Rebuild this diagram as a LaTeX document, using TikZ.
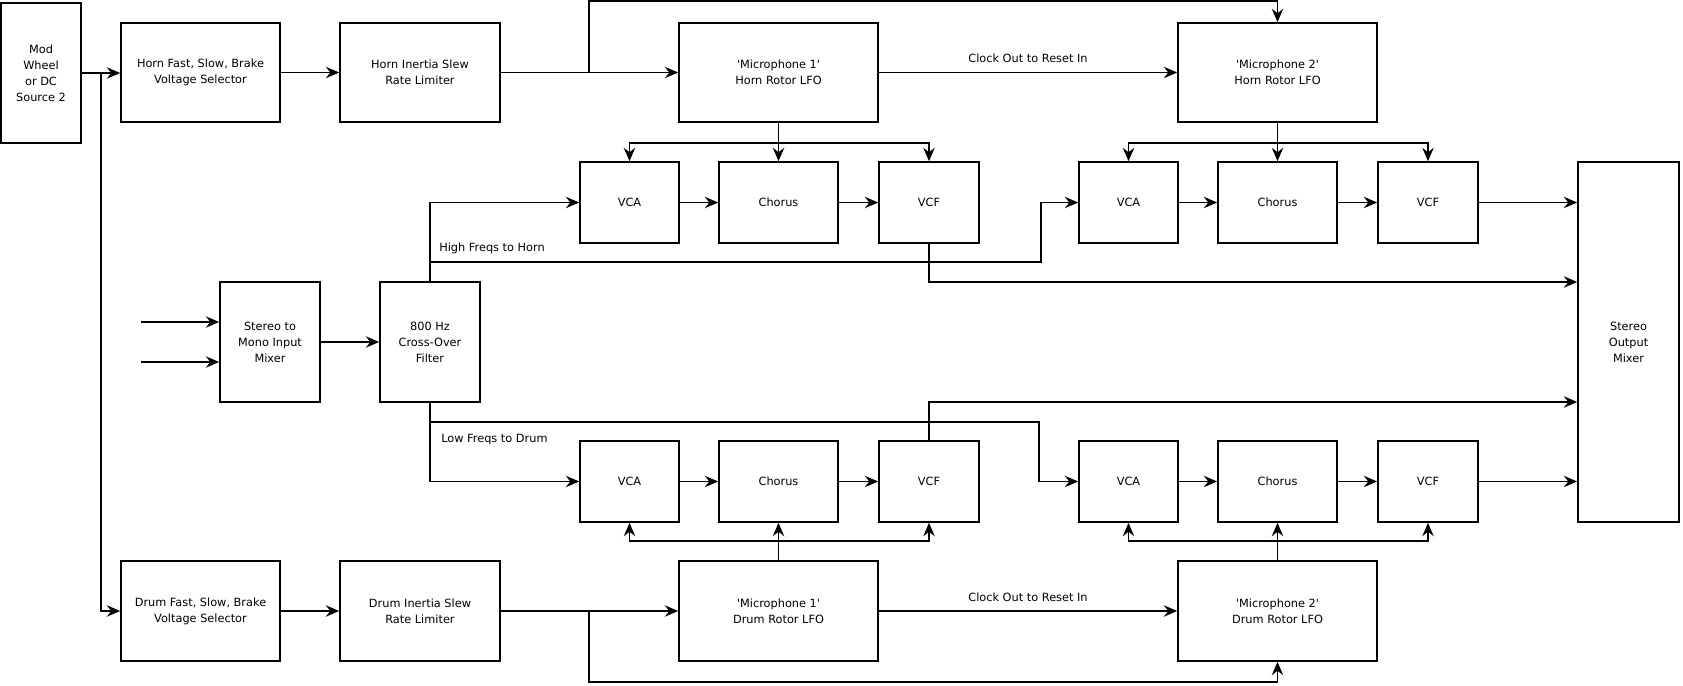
\documentclass[tikz,border=0pt]{standalone}
\usepackage{fontspec}
\setmainfont{DejaVu Sans}
\usetikzlibrary{arrows.meta,calc}
\newcommand\fs{\fontsize{8.5pt}{12pt}\selectfont}
\newcommand\mybox[6]{%
  \pgfmathsetmacro\bcx{(#2+#4)/2}%
  \pgfmathsetmacro\bcy{(#3+#5)/2}%
  \pgfmathsetmacro\bw{(#4-#2)*0.75}%
  \pgfmathsetmacro\bh{(#5-#3)*0.75}%
  \node[blk, minimum width=\bw pt, minimum height=\bh pt] (#1) at (\bcx,\bcy) {#6};}
\newcommand\sq{\textquotesingle}
\begin{document}
\begin{tikzpicture}[x=0.75pt,y=-0.75pt,
  blk/.style={draw, line width=1.2pt, align=center, inner sep=2pt, font=\fs},
  arr/.style={line width=1.4pt, -{Stealth[length=10pt,width=8.5pt,inset=3.3pt]}},
  lbl/.style={font=\fs, inner sep=0pt}]
\useasboundingbox (0,0) rectangle (1683,685);
% boxes
\mybox{mod}{1}{3}{81}{143}{Mod\\Wheel\\or DC\\Source 2}
\mybox{hf}{121}{23}{280}{122}{Horn Fast, Slow, Brake\\Voltage Selector}
\mybox{hi}{340}{23}{500}{122}{Horn Inertia Slew\\Rate Limiter}
\mybox{m1h}{679}{23}{878}{122}{\sq Microphone 1\sq\\Horn Rotor LFO}
\mybox{m2h}{1178}{23}{1377}{122}{\sq Microphone 2\sq\\Horn Rotor LFO}
\mybox{va1}{580}{162}{679}{243}{VCA}
\mybox{ch1}{719}{162}{838}{243}{Chorus}
\mybox{vf1}{879}{162}{979}{243}{VCF}
\mybox{va2}{1079}{162}{1178}{243}{VCA}
\mybox{ch2}{1218}{162}{1337}{243}{Chorus}
\mybox{vf2}{1378}{162}{1478}{243}{VCF}
\mybox{om}{1578}{162}{1679}{522}{Stereo\\Output\\Mixer}
\mybox{sm}{220}{282}{320}{402}{Stereo to\\Mono Input\\Mixer}
\mybox{xo}{380}{282}{480}{402}{800 Hz\\Cross-Over\\Filter}
\mybox{vb1}{580}{441}{679}{522}{VCA}
\mybox{chb1}{719}{441}{838}{522}{Chorus}
\mybox{vfb1}{879}{441}{979}{522}{VCF}
\mybox{vb2}{1079}{441}{1178}{522}{VCA}
\mybox{chb2}{1218}{441}{1337}{522}{Chorus}
\mybox{vfb2}{1378}{441}{1478}{522}{VCF}
\mybox{df}{121}{561}{280}{661}{Drum Fast, Slow, Brake\\Voltage Selector}
\mybox{di}{340}{561}{500}{661}{Drum Inertia Slew\\Rate Limiter}
\mybox{m1d}{679}{561}{878}{661}{\sq Microphone 1\sq\\Drum Rotor LFO}
\mybox{m2d}{1178}{561}{1377}{661}{\sq Microphone 2\sq\\Drum Rotor LFO}
% helper coordinates
\coordinate (j1) at (101,73);
\coordinate (j2) at (589,72.5);
\coordinate (ytop) at (0,1);
\coordinate (yhb) at (0,143);
\coordinate (in1) at (141,322);
\coordinate (in2) at (141,362);
\coordinate (hl) at (430,262);
\coordinate (hk) at (1041,262);
\coordinate (y282) at (0,282);
\coordinate (ll) at (430,422);
\coordinate (lk) at (1039,422);
\coordinate (y402) at (0,402);
\coordinate (ydb) at (0,541);
\coordinate (j3) at (589,611);
\coordinate (ybot) at (0,682);
% control chain (horn)
\draw[arr] (mod.east) -- (mod.east -| hf.west);
\draw[arr] (j1) |- (df.west);
\draw[arr] (hf) -- (hi);
\draw[arr] (hi) -- (m1h);
\draw[arr] (j2) -- (j2 |- ytop) -| (m2h.north);
\draw[arr] (m1h) -- node[lbl, midway, yshift=10.5pt] {Clock Out to Reset In} (m2h);
\draw[arr] (m1h.south) -- (ch1.north);
\draw[arr] (m1h.south |- yhb) -| (va1.north);
\draw[arr] (m1h.south |- yhb) -| (vf1.north);
\draw[arr] (m2h.south) -- (ch2.north);
\draw[arr] (m2h.south |- yhb) -| (va2.north);
\draw[arr] (m2h.south |- yhb) -| (vf2.north);
% audio upper
\draw[arr] (va1) -- (ch1);
\draw[arr] (ch1) -- (vf1);
\draw[arr] (va2) -- (ch2);
\draw[arr] (ch2) -- (vf2);
\draw[arr] (in1) -- (in1 -| sm.west);
\draw[arr] (in2) -- (in2 -| sm.west);
\draw[arr] (sm) -- (xo);
\draw[arr] (xo.north) |- (va1.west);
\draw[arr] (hl) -- (hk) |- (va2.west);
\node[lbl, anchor=west] at (439,248) {High Freqs to Horn};
\draw[arr] (vf1.south) |- (om.west |- y282);
\draw[arr] (vf2.east) -- (vf2.east -| om.west);
% audio lower
\draw[arr] (xo.south) |- (vb1.west);
\draw[arr] (ll) -- (lk) |- (vb2.west);
\node[lbl, anchor=west] at (441,440) {Low Freqs to Drum};
\draw[arr] (vb1) -- (chb1);
\draw[arr] (chb1) -- (vfb1);
\draw[arr] (vb2) -- (chb2);
\draw[arr] (chb2) -- (vfb2);
\draw[arr] (vfb1.north) |- (om.west |- y402);
\draw[arr] (vfb2.east) -- (vfb2.east -| om.west);
% control chain (drum)
\draw[arr] (df) -- (di);
\draw[arr] (di) -- (m1d);
\draw[arr] (m1d) -- node[lbl, midway, yshift=10.5pt] {Clock Out to Reset In} (m2d);
\draw[arr] (j3) -- (j3 |- ybot) -| (m2d.south);
\draw[arr] (m1d.north) -- (chb1.south);
\draw[arr] (m1d.north |- ydb) -| (vb1.south);
\draw[arr] (m1d.north |- ydb) -| (vfb1.south);
\draw[arr] (m2d.north) -- (chb2.south);
\draw[arr] (m2d.north |- ydb) -| (vb2.south);
\draw[arr] (m2d.north |- ydb) -| (vfb2.south);
\end{tikzpicture}
\end{document}
